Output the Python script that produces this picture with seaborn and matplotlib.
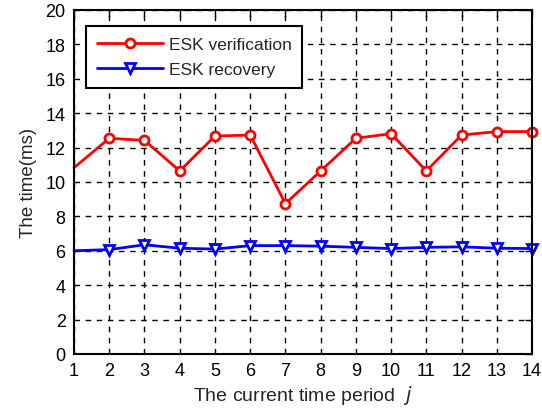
import matplotlib
matplotlib.use("Agg")
import matplotlib.pyplot as plt
import seaborn as sns
import pandas as pd

periods = list(range(1, 15))
esk_verification = [10.83, 12.54, 12.42, 10.64, 12.67, 12.73, 8.74,
                    10.64, 12.54, 12.81, 10.64, 12.73, 12.93, 12.93]
esk_recovery = [6.00, 6.07, 6.35, 6.15, 6.10, 6.30, 6.30,
                6.27, 6.20, 6.13, 6.20, 6.23, 6.15, 6.13]
x_ticks = list(range(1, 15))
y_ticks = list(range(0, 21, 2))

sns.set_theme(style="white")
plt.rcParams["font.family"] = ["Liberation Sans", "DejaVu Sans"]

df = pd.DataFrame({"period": periods,
                   "verification": esk_verification,
                   "recovery": esk_recovery})

fig = plt.figure(figsize=(5.42, 4.10), dpi=100)
ax = fig.add_axes([74 / 542, 1 - 355 / 410, (532 - 74) / 542, (355 - 11) / 410])

marks = list(range(1, len(periods)))
sns.lineplot(data=df, x="period", y="verification", ax=ax, color="red",
             linewidth=2, marker="o", markersize=6.5, markerfacecolor="white",
             markeredgecolor="red", markeredgewidth=2, markevery=marks,
             label="ESK verification", clip_on=False)
sns.lineplot(data=df, x="period", y="recovery", ax=ax, color="blue",
             linewidth=2, marker="v", markersize=6.5, markerfacecolor="white",
             markeredgecolor="blue", markeredgewidth=2, markevery=marks,
             label="ESK recovery", clip_on=False)

ax.set_xlim(1, 14)
ax.set_ylim(0, 20)
ax.set_xticks(x_ticks)
ax.set_yticks(y_ticks)
ax.grid(True, color="black", linestyle=(0, (4, 4)), linewidth=1)
ax.tick_params(direction="in", length=5, width=1, top=True, right=True,
               labelsize=13, colors="black", pad=6)
for s in ax.spines.values():
    s.set_color("black")
    s.set_linewidth(1.5)

ax.set_xlabel("The current time period  $\\it{j}$", fontsize=14, labelpad=3)
ax.set_ylabel("The time(ms)", fontsize=13.5, labelpad=6)

leg = ax.legend(loc="upper left", bbox_to_anchor=(0.026, 0.953),
                fontsize=12.5, frameon=True, fancybox=False,
                edgecolor="black", handlelength=3.8, handletextpad=0.35,
                borderpad=0.62, labelspacing=0.58, borderaxespad=0)
leg.get_frame().set_linewidth(1.5)
leg.get_frame().set_alpha(1)

fig.savefig("out.png", dpi=100)
